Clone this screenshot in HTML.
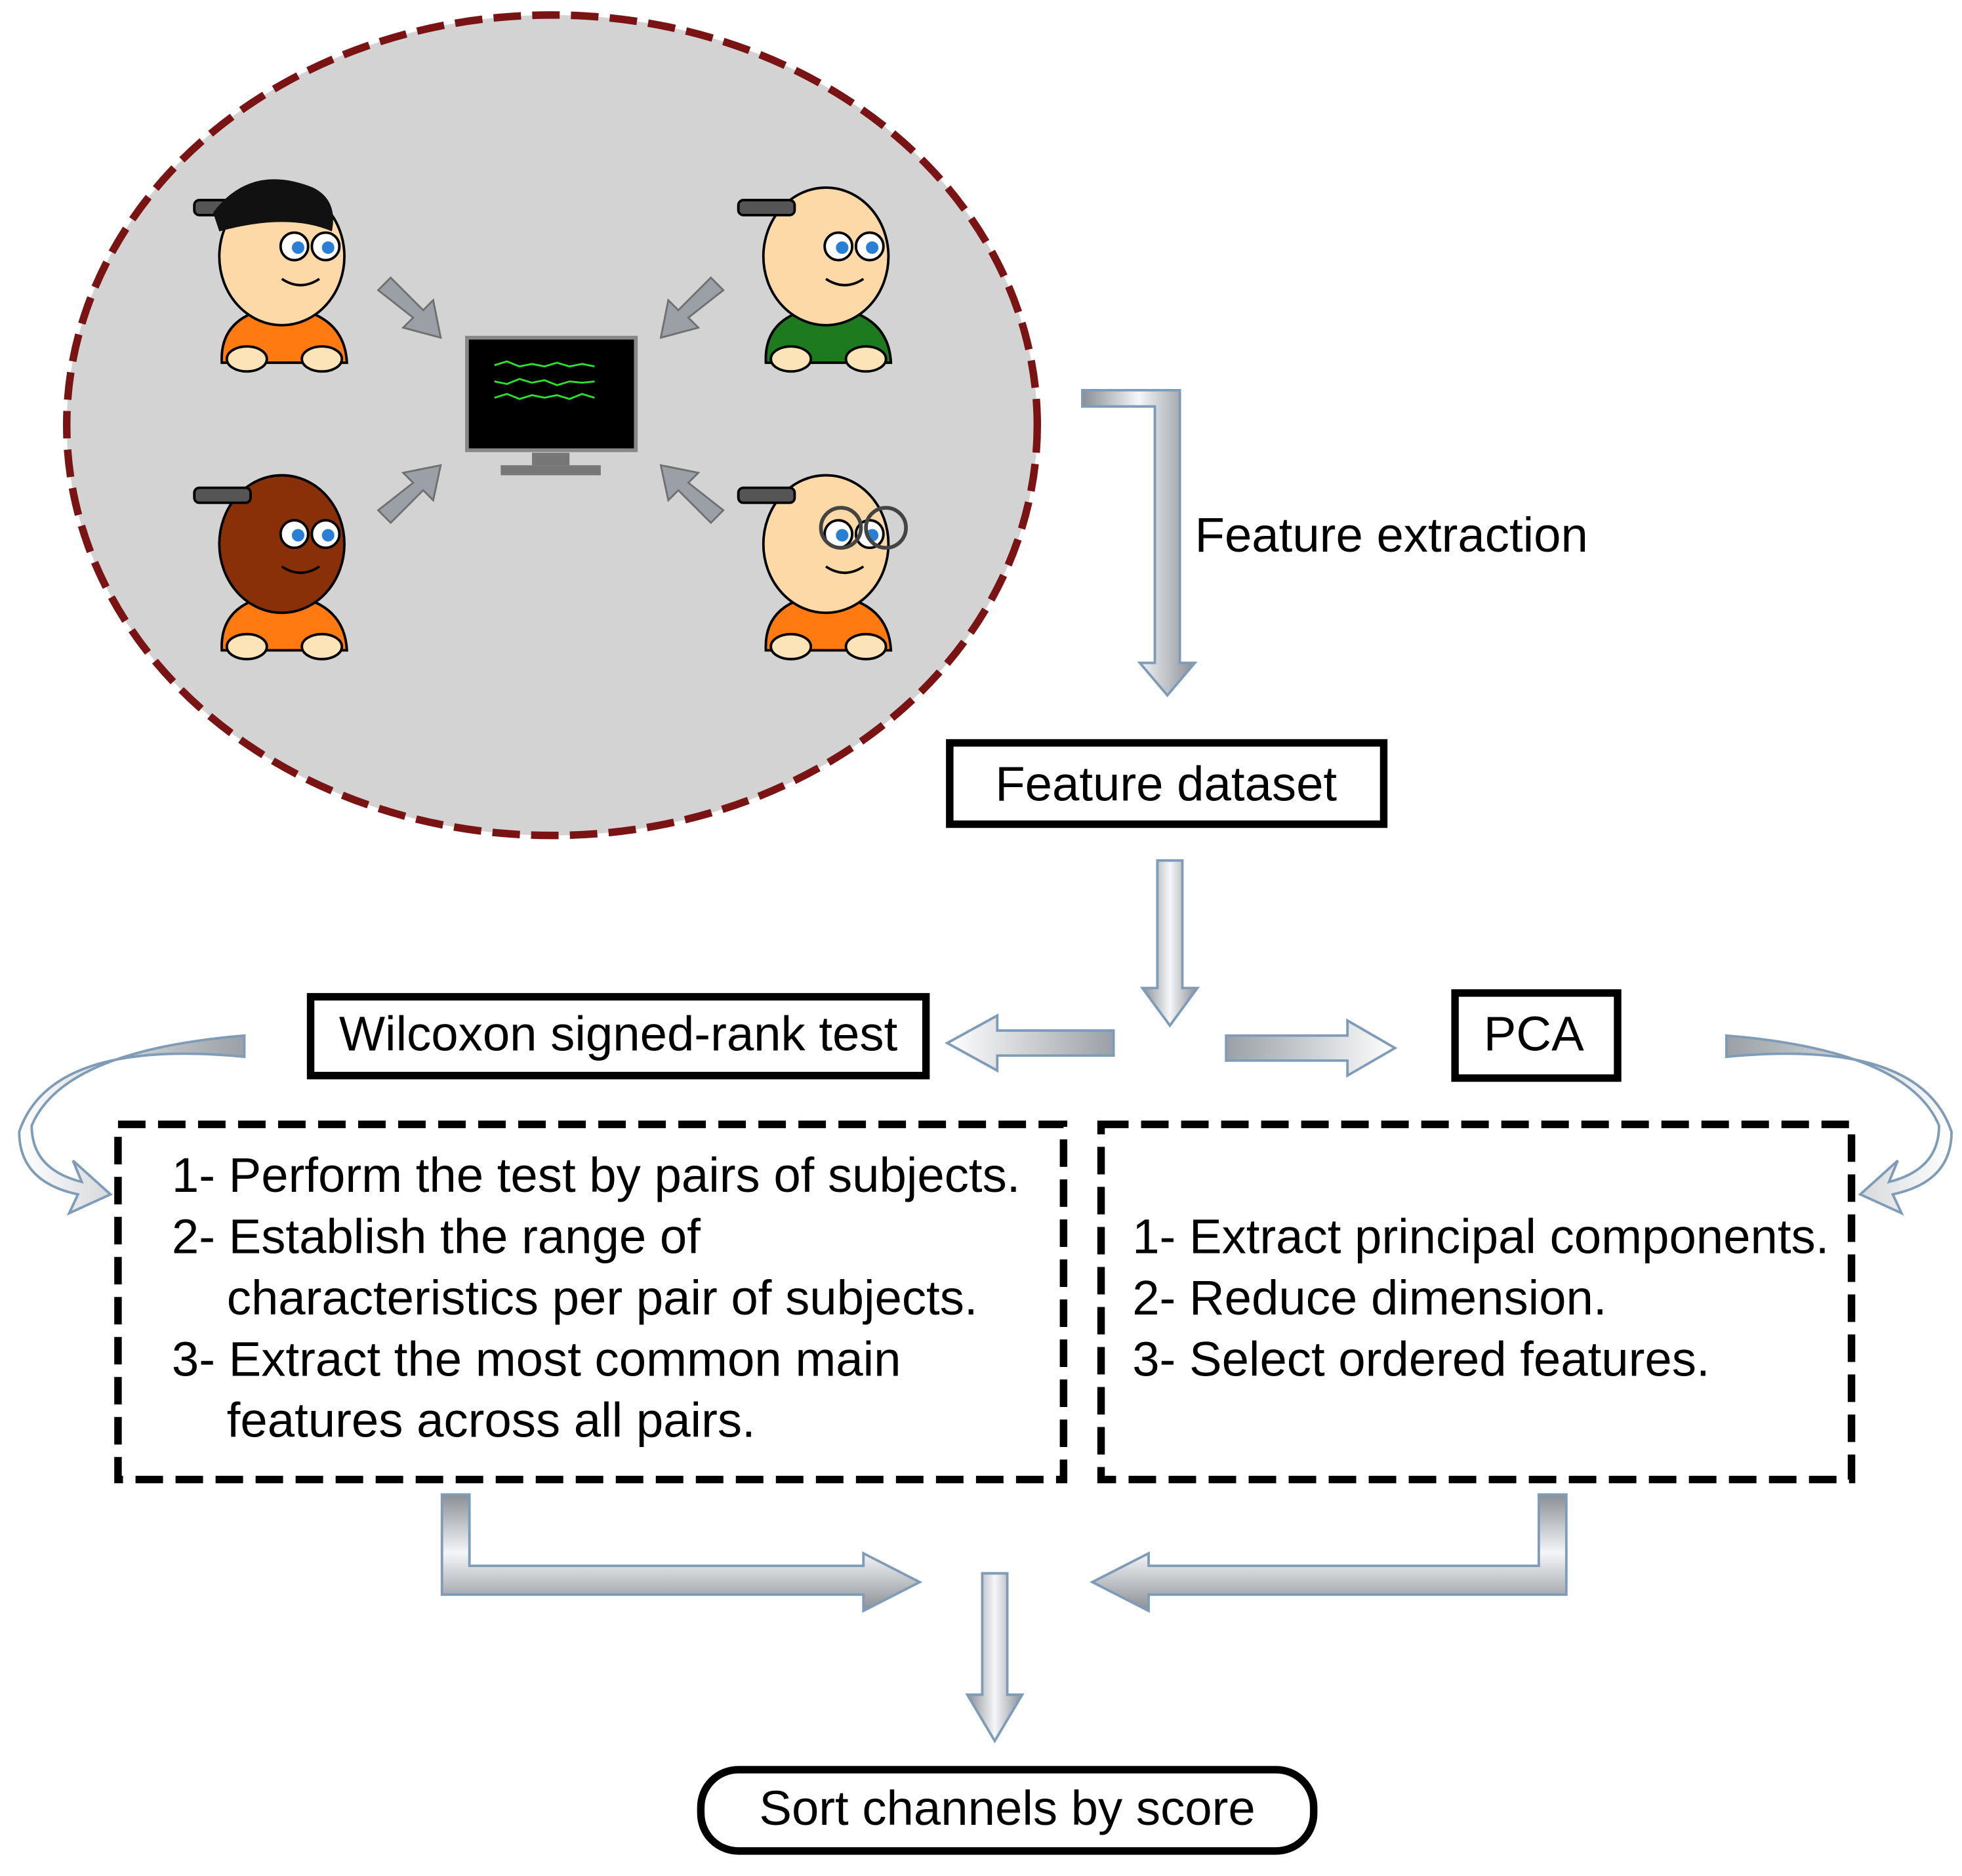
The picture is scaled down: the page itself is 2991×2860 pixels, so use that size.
<!DOCTYPE html>
<html><head><meta charset="utf-8"><style>
html,body{margin:0;padding:0;background:#fff;}
svg{display:block;}
text{font-family:"Liberation Sans",Arial,sans-serif;fill:#000;}
</style></head><body>
<svg width="2991" height="2860" viewBox="0 0 1568 1500" xmlns="http://www.w3.org/2000/svg">
<defs>
<linearGradient id="gv" x1="0" y1="0" x2="1" y2="0"><stop offset="0" stop-color="#8a8f95"/><stop offset="0.5" stop-color="#f4f6f8"/><stop offset="1" stop-color="#8a8f95"/></linearGradient>
<linearGradient id="gh" x1="0" y1="0" x2="0" y2="1"><stop offset="0" stop-color="#8a8f95"/><stop offset="0.5" stop-color="#f4f6f8"/><stop offset="1" stop-color="#8a8f95"/></linearGradient>
<linearGradient id="gl" x1="0" y1="0" x2="1" y2="0"><stop offset="0" stop-color="#ffffff"/><stop offset="1" stop-color="#9aa0a6"/></linearGradient>
<linearGradient id="gr" x1="0" y1="0" x2="1" y2="0"><stop offset="0" stop-color="#9aa0a6"/><stop offset="1" stop-color="#ffffff"/></linearGradient>
<g id="kid">
  <path d="M-48,85 Q-50,45 0,40 Q50,45 52,85 Z" fill="currentColor" stroke="#000" stroke-width="2"/>
  <ellipse cx="0" cy="0" rx="50" ry="55" fill="var(--skin)" stroke="#000" stroke-width="2"/>
  <circle cx="10" cy="-8" r="11" fill="#fff" stroke="#000" stroke-width="2"/>
  <circle cx="35" cy="-8" r="11" fill="#fff" stroke="#000" stroke-width="2"/>
  <circle cx="13" cy="-7" r="5" fill="#2a7fd4"/><circle cx="37" cy="-7" r="5" fill="#2a7fd4"/>
  <path d="M0,18 Q15,28 30,18" fill="none" stroke="#000" stroke-width="2"/>
  <rect x="-70" y="-45" width="45" height="12" rx="4" fill="#555" stroke="#000" stroke-width="2"/>
  <ellipse cx="-28" cy="82" rx="16" ry="10" fill="#fde3b8" stroke="#000" stroke-width="2"/>
  <ellipse cx="32" cy="82" rx="16" ry="10" fill="#fde3b8" stroke="#000" stroke-width="2"/>
</g>
</defs>
<ellipse cx="441" cy="340" rx="388" ry="328" fill="#d3d3d3" stroke="#7a1414" stroke-width="6" stroke-dasharray="22,9"/>
<g style="--skin:#fdd9a8" color="#ff7a10"><use href="#kid" x="225" y="205"/></g>
<path d="M170,170 Q200,130 250,150 Q270,160 265,185 Q230,170 175,185 Z" fill="#111"/>
<g style="--skin:#fdd9a8" color="#1e7a1e"><use href="#kid" x="660" y="205"/></g>
<g style="--skin:#8a3008" color="#ff7a10"><use href="#kid" x="225" y="435"/></g>
<g style="--skin:#fdd9a8" color="#ff7a10"><use href="#kid" x="660" y="435"/></g>
<circle cx="672" cy="422" r="16" fill="none" stroke="#444" stroke-width="3"/><circle cx="708" cy="422" r="16" fill="none" stroke="#444" stroke-width="3"/>
<rect x="373" y="270" width="135" height="90" fill="#000" stroke="#888" stroke-width="3"/>
<rect x="425" y="362" width="30" height="10" fill="#777"/><rect x="400" y="372" width="80" height="8" fill="#777"/>
<path d="M395,292 l10,-3 10,4 10,-2 10,2 10,-3 10,3 10,-2 10,2 M395,305 l10,2 10,-4 10,3 10,-2 10,4 10,-3 10,1 10,-1 M395,318 l10,-3 10,4 10,-3 10,2 10,-2 10,3 10,-4 10,3" stroke="#2ee02e" stroke-width="1.5" fill="none"/>
<g fill="#9aa0a6" stroke="#707070" stroke-width="1.5">
<polygon points="302,232 312,222 338,248 346,240 352,270 322,262 330,254"/>
<polygon points="578,232 568,222 542,248 534,240 528,270 558,262 550,254"/>
<polygon points="302,408 312,418 338,392 346,400 352,372 322,378 330,386"/>
<polygon points="578,408 568,418 542,392 534,400 528,372 558,378 550,386"/>
</g>
<g stroke="#7e9cb8" stroke-width="2">
<path d="M865,312 H943 V530 H955 L933,556 L911,530 H923 V325 H865 Z" fill="url(#gv)"/>
<path d="M925,688 H945 V790 H957 L935,820 L913,790 H925 Z" fill="url(#gv)"/>
<path d="M890,824 H797 V812 L757,834 L797,856 V844 H890 Z" fill="url(#gl)"/>
<path d="M980,828 H1077 V816 L1115,838 L1077,860 V848 H980 Z" fill="url(#gr)"/>
<path d="M353,1195 H375 V1252 H690 V1242 L735,1265 L690,1288 V1275 H353 Z" fill="url(#gh)"/>
<path d="M1252,1195 H1230 V1252 H918 V1242 L873,1265 L918,1288 V1275 H1252 Z" fill="url(#gh)"/>
<path d="M785,1258 H805 V1355 H817 L795,1392 L773,1355 H785 Z" fill="url(#gv)"/>
<path d="M195,828 Q50,840 25,900 Q25,935 65,945 L58,928 L88,955 L55,970 L62,955 Q15,945 15,905 Q40,830 195,845 Z" fill="url(#gl)"/>
<path d="M1380,828 Q1525,840 1550,900 Q1550,935 1510,945 L1517,928 L1487,955 L1520,970 L1513,955 Q1560,945 1560,905 Q1535,830 1380,845 Z" fill="url(#gr)"/>
</g>
<text x="955" y="441" font-size="39">Feature extraction</text>
<rect x="759" y="594" width="347" height="65" fill="#fff" stroke="#000" stroke-width="6"/>
<text x="932" y="640" font-size="39" text-anchor="middle">Feature dataset</text>
<rect x="248" y="797" width="492" height="63" fill="#fff" stroke="#000" stroke-width="6"/>
<text x="494" y="840" font-size="39" text-anchor="middle">Wilcoxon signed-rank test</text>
<rect x="1163" y="794" width="130" height="68" fill="#fff" stroke="#000" stroke-width="6"/>
<text x="1226" y="840" font-size="39" text-anchor="middle">PCA</text>
<rect x="94" y="899" width="756" height="284" fill="none" stroke="#000" stroke-width="6" stroke-dasharray="22,10"/>
<rect x="880" y="899" width="600" height="284" fill="none" stroke="#000" stroke-width="6" stroke-dasharray="22,10"/>
<g font-size="39">
<text x="137" y="953">1- Perform the test by pairs of subjects.</text>
<text x="137" y="1002">2- Establish the range of</text>
<text x="181" y="1051">characteristics per pair of subjects.</text>
<text x="137" y="1100">3- Extract the most common main</text>
<text x="181" y="1149">features across all pairs.</text>
<text x="905" y="1002">1- Extract principal components.</text>
<text x="905" y="1051">2- Reduce dimension.</text>
<text x="905" y="1100">3- Select ordered features.</text>
</g>
<rect x="560" y="1415" width="490" height="65" rx="30" fill="#fff" stroke="#000" stroke-width="6"/>
<text x="805" y="1459" font-size="39" text-anchor="middle">Sort channels by score</text>
</svg>
</body></html>
